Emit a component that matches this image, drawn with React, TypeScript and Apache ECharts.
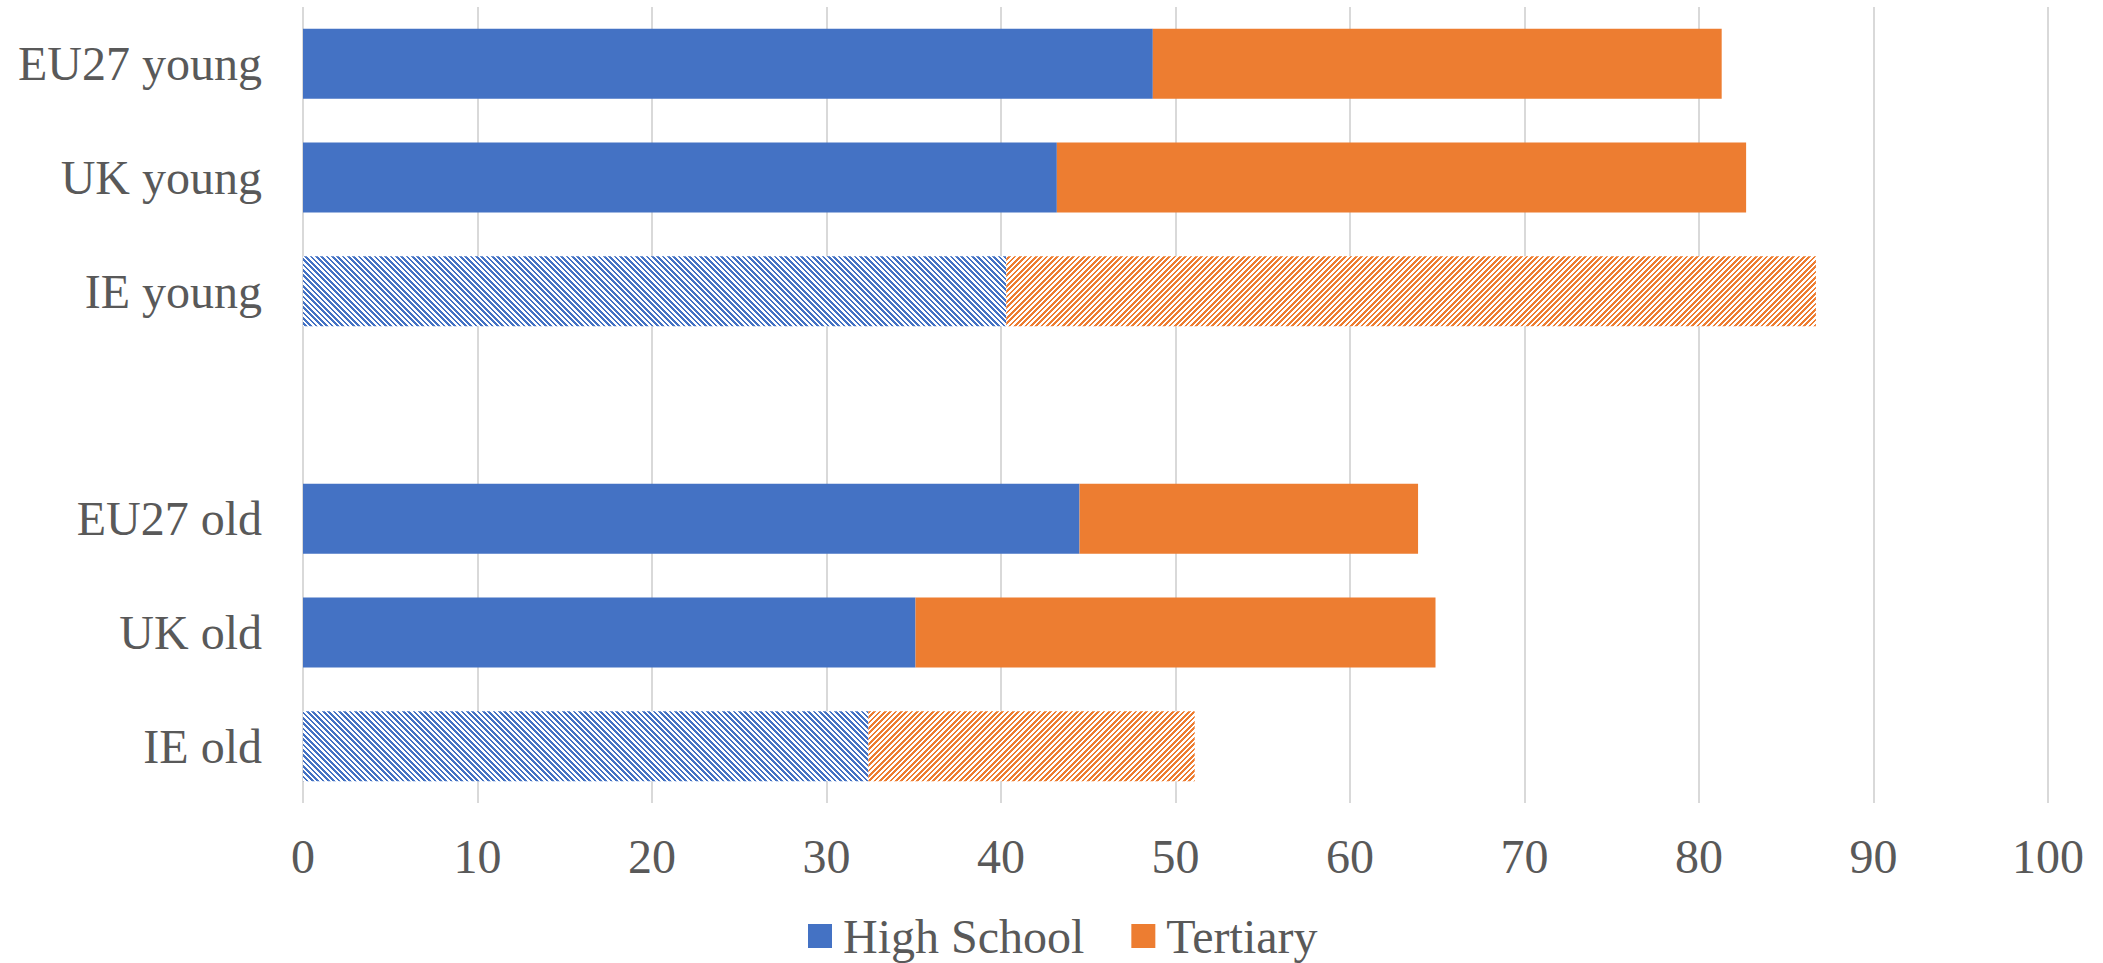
import { useEffect, useRef } from 'react';
import * as echarts from 'echarts';

const categories = ['IE old', 'UK old', 'EU27 old', '', 'IE young', 'UK young', 'EU27 young'];
const highSchool: (number | null)[] = [32.4, 35.1, 44.5, null, 40.3, 43.2, 48.7];
const tertiary: (number | null)[] = [18.7, 29.8, 19.4, null, 46.4, 39.5, 32.6];
const hatched = [true, false, false, false, true, false, false];
const seriesNames = ['High School', 'Tertiary'];

const BLUE = '#4472C4';
const ORANGE = '#ED7D31';
const FONT = '"Liberation Serif", "Times New Roman", serif';
const TEXT = '#595959';

function makePattern(color: string, dir: 'down' | 'up') {
  const S = 16;
  const c = document.createElement('canvas');
  c.width = S;
  c.height = S;
  const ctx = c.getContext('2d')!;
  ctx.fillStyle = '#ffffff';
  ctx.fillRect(0, 0, S, S);
  ctx.fillStyle = color;
  for (let y = 0; y < S; y++) {
    for (let x = 0; x < S; x++) {
      const d = dir === 'down' ? x - y + 4 * S : x + y;
      const phase = ((d % S) * 3) / S;
      const frac = phase - Math.floor(phase);
      if (frac < 0.5) ctx.fillRect(x, y, 1, 1);
    }
  }
  return { image: c, repeat: 'repeat', imageWidth: S, imageHeight: S } as any;
}

export default function App() {
  const ref = useRef<HTMLDivElement>(null);
  useEffect(() => {
    if (!ref.current) return;
    const chart = echarts.init(ref.current, null, { renderer: 'svg' });
    const bluePat = makePattern(BLUE, 'down');
    const orangePat = makePattern(ORANGE, 'up');
    const build = (vals: (number | null)[], pat: any) =>
      vals.map((v, i) => (hatched[i] ? { value: v, itemStyle: { color: pat } } : { value: v }));
    chart.setOption({
      animation: false,
      grid: { left: 303, right: 55, top: 7, bottom: 160, containLabel: false },
      legend: {
        data: seriesNames,
        left: 808,
        top: 912,
        padding: 0,
        itemWidth: 24,
        itemHeight: 24,
        itemGap: 47,
        icon: 'rect',
        textStyle: {
          fontFamily: FONT,
          fontSize: 48,
          lineHeight: 48,
          color: TEXT,
          padding: [0, 0, 0, 6],
        },
      },
      xAxis: {
        type: 'value',
        min: 0,
        max: 100,
        interval: 10,
        axisLine: { show: false },
        axisTick: { show: false },
        splitLine: { show: true, lineStyle: { color: '#D9D9D9', width: 2 } },
        axisLabel: {
          fontFamily: FONT,
          fontSize: 48,
          lineHeight: 48,
          color: TEXT,
          margin: 53,
          verticalAlign: 'middle',
        },
      },
      yAxis: {
        type: 'category',
        data: categories,
        axisLine: { show: false },
        axisTick: { show: false },
        splitLine: { show: false },
        axisLabel: {
          fontFamily: FONT,
          fontSize: 48,
          lineHeight: 48,
          color: TEXT,
          margin: 41,
        },
      },
      series: [
        {
          name: seriesNames[0],
          type: 'bar',
          stack: 'total',
          barWidth: 70,
          itemStyle: { color: BLUE },
          data: build(highSchool, bluePat),
        },
        {
          name: seriesNames[1],
          type: 'bar',
          stack: 'total',
          barWidth: 70,
          itemStyle: { color: ORANGE },
          data: build(tertiary, orangePat),
        },
      ],
    });
    return () => chart.dispose();
  }, []);
  return (
    <div
      ref={ref}
      style={{ position: 'fixed', left: 0, top: 0, width: 2103, height: 963, background: '#fff' }}
    />
  );
}
